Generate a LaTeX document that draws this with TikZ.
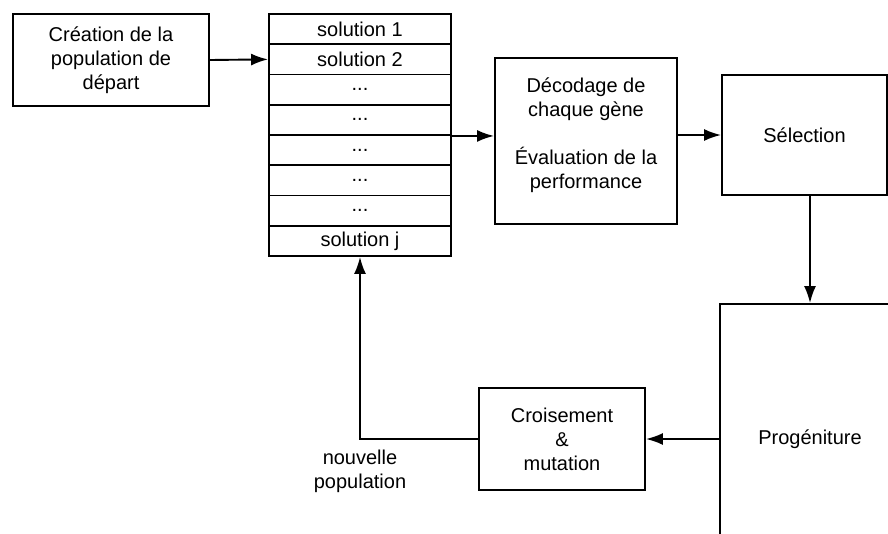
\documentclass[tikz,border=0pt]{standalone}
\usepackage{fontspec}
\setmainfont{Liberation Sans}
\usetikzlibrary{arrows.meta,positioning,calc}
\newcommand{\troispts}{...}

\begin{document}
\begin{tikzpicture}[x=1pt,y=-1pt]
  %% ALGORITHME GENETIQUE
  \useasboundingbox (0,0) rectangle (888,533);
  \clip (0,0) rectangle (888,533);

  \tikzstyle{every node}=[font=\fontsize{20}{24}\selectfont, align=center, inner sep=0pt]
  \tikzstyle{bloc}=[draw, line width=1.9pt]
  \tikzstyle{fleche}=[line width=1.9pt, -{Latex[length=17pt,width=12pt]}]

  % population de depart
  \node[bloc, minimum width=196pt, minimum height=92pt] (crea) at (111,60)
  {Cr\'eation de la\\population de\\d\'epart};

  % tableau des solutions
  \foreach \i/\txt in {1/solution 1, 2/solution 2, 3/\troispts, 4/\troispts, 5/\troispts, 6/\troispts, 7/\troispts, 8/solution j} {
    \node[bloc, minimum width=182pt, minimum height=30.25pt] (s\i) at (360,{14+30.25*(\i-0.5)}) {\txt};
  }

  \node[bloc, minimum width=182pt, minimum height=166pt, text depth=16pt] (deco) at (586,141)
  {D\'ecodage de\\chaque g\`ene\\[24pt]\'Evaluation de la\\performance};
  \node[bloc, minimum width=165pt, minimum height=120pt] (sel) at (804.5,135) {S\'election};
  \node[bloc, minimum width=180pt, minimum height=270pt] (prog) at (810,439) {Prog\'eniture};
  \node[bloc, minimum width=166pt, minimum height=102pt] (crois) at (562,439)
  {Croisement\\\&\\mutation};

  \coordinate (np) at (s8.south |- crois.west);
  \node[below=11pt of np] (nouv) {nouvelle\\population};

  % liaisons
  \draw[fleche] (crea.east) -- (s2.west);
  \draw[fleche] (s4.south east) -- (s4.south east -| deco.west);
  \draw[fleche] (deco.east |- sel.west) -- (sel.west);
  \draw[fleche] (prog.north |- sel.south) -- (prog.north);
  \draw[fleche] (prog.west) -- (crois.east);
  \draw[fleche] (crois.west) -- (np) -- (s8.south);
\end{tikzpicture}
\end{document}
